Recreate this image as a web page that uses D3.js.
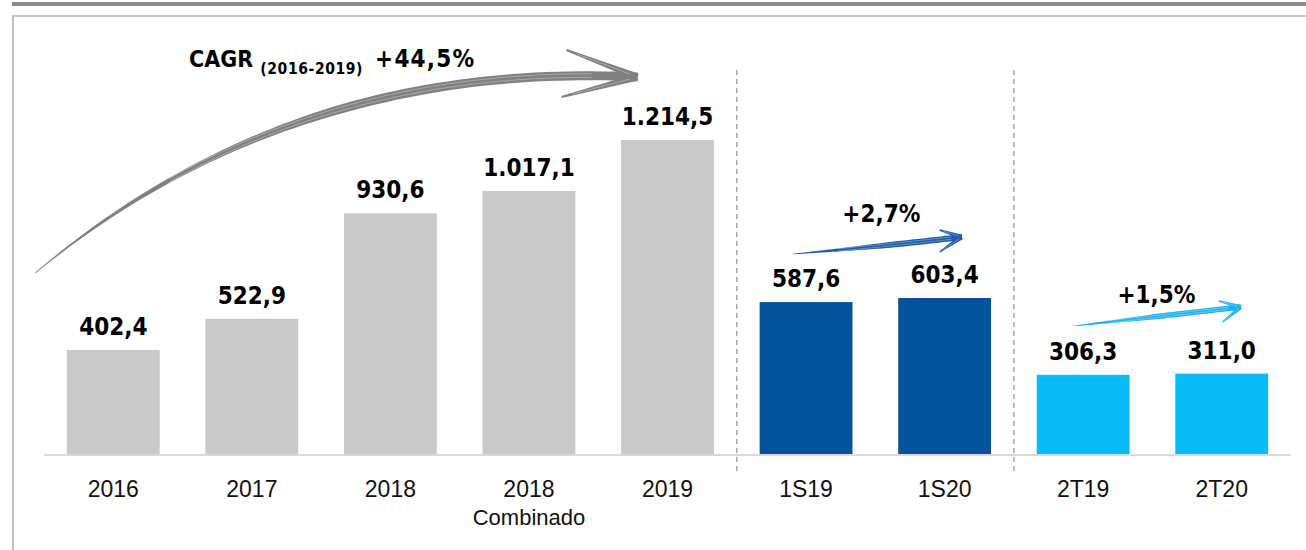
<!DOCTYPE html>
<html>
<head>
<meta charset="utf-8">
<script src="https://cdn.jsdelivr.net/npm/d3@7"></script>
<style>
  html, body { margin: 0; padding: 0; background: #fff; }
  svg { display: block; font-family: 'DejaVu Sans Condensed', 'DejaVu Sans', sans-serif; }
</style>
</head>
<body>
<div id="chart"></div>
<script>
// periods shown on the x axis
const keys = ['2016', '2017', '2018', '2018c', '2019', '1S19', '1S20', '2T19', '2T20'];
const tickLabels = [['2016'], ['2017'], ['2018'], ['2018', 'Combinado'], ['2019'], ['1S19'], ['1S20'], ['2T19'], ['2T20']];
const values = [402.4, 522.9, 930.6, 1017.1, 1214.5, 587.6, 603.4, 306.3, 311.0];
const groups = ['year', 'year', 'year', 'year', 'year', 'sem', 'sem', 'tri', 'tri'];

const groupColor = { year: '#c9c9c9', sem: '#05529c', tri: '#09bcf8' };

// growth annotations
const growth = [
  { from: '2016', to: '2019', text: '+44,5%', color: '#808080' },
  { from: '1S19', to: '1S20', text: '+2,7%', color: '#1c5ca8' },
  { from: '2T19', to: '2T20', text: '+1,5%', color: '#1eb0f0' },
];

const width = 1306, height = 550;
const baseY = 454;

const ptBR = d3.formatLocale({ decimal: ',', thousands: '.', grouping: [3], currency: ['R$', ''] });
const fmt = ptBR.format(',.1f');

const svg = d3.select('#chart').append('svg')
  .attr('width', width)
  .attr('height', height);

// frame
svg.append('rect').attr('x', 12).attr('y', 2).attr('width', width - 12).attr('height', 4).attr('fill', '#8a8a8a');
svg.append('rect').attr('x', 12).attr('y', 15).attr('width', width - 12).attr('height', 2).attr('fill', '#c8c8c8');
svg.append('rect').attr('x', 12).attr('y', 15).attr('width', 2).attr('height', height - 15).attr('fill', '#c0c0c0');

const x = d3.scaleBand().domain(keys).range([44, 1291]).paddingInner(0.33).paddingOuter(0.165);
const y = d3.scaleLinear().domain([0, 1214.5]).range([baseY, 140]);

const data = keys.map((k, i) => ({ key: k, value: values[i], group: groups[i], label: tickLabels[i] }));

// group separators
const seps = [['2019', '1S19'], ['1S20', '2T19']];
svg.selectAll('line.sep').data(seps).join('line')
  .attr('class', 'sep')
  .attr('x1', d => (x(d[0]) + x.bandwidth() + x(d[1])) / 2)
  .attr('x2', d => (x(d[0]) + x.bandwidth() + x(d[1])) / 2)
  .attr('y1', 70).attr('y2', 472)
  .attr('stroke', '#a6a6a6').attr('stroke-width', 1.5)
  .attr('stroke-dasharray', '5,4');

svg.selectAll('rect.bar').data(data).join('rect')
  .attr('class', 'bar')
  .attr('x', d => x(d.key))
  .attr('y', d => y(d.value))
  .attr('width', x.bandwidth())
  .attr('height', d => baseY - y(d.value))
  .attr('fill', d => groupColor[d.group]);

// baseline
svg.append('line')
  .attr('x1', 44).attr('x2', 1291)
  .attr('y1', baseY + 1).attr('y2', baseY + 1)
  .attr('stroke', '#d9d9d9').attr('stroke-width', 2);

// value labels
svg.selectAll('text.val').data(data).join('text')
  .attr('class', 'val')
  .attr('x', d => x(d.key) + x.bandwidth() / 2)
  .attr('y', d => y(d.value) - 15)
  .attr('text-anchor', 'middle')
  .attr('font-weight', 'bold')
  .attr('font-size', 24)
  .attr('fill', '#000')
  .text(d => fmt(d.value));

// category labels
const xAxis = d3.axisBottom(x).tickSize(0).tickFormat('');
const axisG = svg.append('g').attr('transform', `translate(0, ${baseY})`).call(xAxis);
axisG.select('.domain').remove();
axisG.selectAll('.tick').each(function (k, i) {
  const t = d3.select(this).append('text')
    .attr('text-anchor', 'middle')
    .attr('fill', '#111');
  tickLabels[i].forEach((s, j) => {
    t.append('tspan').attr('x', 0).attr('y', 43 + j * 28).attr('font-size', j ? 22 : 23).text(s);
  });
});

// sketchy tapered arrow along a quadratic curve
function sketchArrow(g, p0, c, p1, color, maxW, head) {
  const n = 60;
  const pts = d3.range(n + 1).map(i => {
    const t = i / n;
    const a = (1 - t) * (1 - t), b = 2 * (1 - t) * t, e = t * t;
    return [a * p0[0] + b * c[0] + e * p1[0], a * p0[1] + b * c[1] + e * p1[1], t];
  });
  const up = [], dn = [];
  pts.forEach((p, i) => {
    const q = pts[Math.min(i + 1, n)], r = pts[Math.max(i - 1, 0)];
    let dx = q[0] - r[0], dy = q[1] - r[1];
    const len = Math.hypot(dx, dy);
    dx /= len; dy /= len;
    const w = maxW * (0.1 + 0.9 * Math.min(1, p[2] * 1.8)) / 2;
    up.push([p[0] - dy * w, p[1] + dx * w]);
    dn.push([p[0] + dy * w, p[1] - dx * w]);
  });
  const poly = up.concat(dn.reverse());
  g.append('path').attr('d', d3.line()(poly) + 'Z').attr('fill', color);
  // light inner streaks for the brush look
  [-0.22, 0.18].forEach(o => {
    const streak = pts.slice(Math.round(n * 0.25), n - 3).map(p => [p[0], p[1] + o * maxW]);
    g.append('path').attr('d', d3.line().curve(d3.curveBasis)(streak))
      .attr('fill', 'none').attr('stroke', '#fff').attr('stroke-opacity', 0.45).attr('stroke-width', 0.7);
  });
  // head barbs
  head.forEach(b => {
    const dx = p1[0] - b[0], dy = p1[1] - b[1];
    const len = Math.hypot(dx, dy);
    const nx = -dy / len, ny = dx / len;
    const w0 = maxW * 0.12, w1 = maxW * 0.4;
    const shape = [
      [b[0] + nx * w0, b[1] + ny * w0],
      [p1[0] + nx * w1, p1[1] + ny * w1],
      [p1[0] - nx * w1, p1[1] - ny * w1],
      [b[0] - nx * w0, b[1] - ny * w0],
    ];
    g.append('path').attr('d', d3.line()(shape) + 'Z').attr('fill', color);
    g.append('line')
      .attr('x1', b[0] + (p1[0] - b[0]) * 0.15).attr('y1', b[1] + (p1[1] - b[1]) * 0.15)
      .attr('x2', p1[0] - (p1[0] - b[0]) * 0.1).attr('y2', p1[1] - (p1[1] - b[1]) * 0.1)
      .attr('stroke', '#fff').attr('stroke-opacity', 0.45).attr('stroke-width', 0.7);
  });
}

const ann = svg.append('g');
const cx = k => x(k) + x.bandwidth() / 2;

// CAGR arrow (2016 -> 2019)
const g0 = growth[0];
sketchArrow(ann, [cx(g0.from) - 78, y(values[0]) - 77], [cx('2018') - 100, 60], [cx(g0.to) - 30, 77], g0.color, 9,
  [[cx(g0.to) - 101, 50], [cx(g0.to) - 106, 97]]);
const cagr = ann.append('text').attr('x', 189).attr('y', 67).attr('font-weight', 'bold').attr('font-size', 23).attr('fill', '#000');
cagr.append('tspan').text('CAGR ');
cagr.append('tspan').attr('font-size', 15.5).attr('dy', 7).attr('letter-spacing', 0.6).text('(2016-2019)');
cagr.append('tspan').attr('dy', -7).attr('dx', 12).attr('font-size', 24).attr('letter-spacing', 1.2).text(g0.text);

// 1S arrow
const g1 = growth[1];
sketchArrow(ann, [cx(g1.from) - 13, 254], [cx(g1.from) + 80, 246], [cx(g1.to) + 17, 237], g1.color, 6,
  [[cx(g1.to) - 5, 230], [cx(g1.to) - 5, 252]]);
ann.append('text').attr('x', (cx(g1.from) + cx(g1.to)) / 2 + 6).attr('y', 222)
  .attr('text-anchor', 'middle').attr('font-weight', 'bold').attr('font-size', 24).text(g1.text);

// 2T arrow
const g2 = growth[2];
sketchArrow(ann, [cx(g2.from) - 10, 326], [cx(g2.from) + 60, 318], [cx(g2.to) + 19, 307], g2.color, 5.5,
  [[cx(g2.to) - 3, 301], [cx(g2.to) + 1, 322]]);
ann.append('text').attr('x', (cx(g2.from) + cx(g2.to)) / 2 + 4).attr('y', 303)
  .attr('text-anchor', 'middle').attr('font-weight', 'bold').attr('font-size', 24).text(g2.text);
</script>
</body>
</html>
